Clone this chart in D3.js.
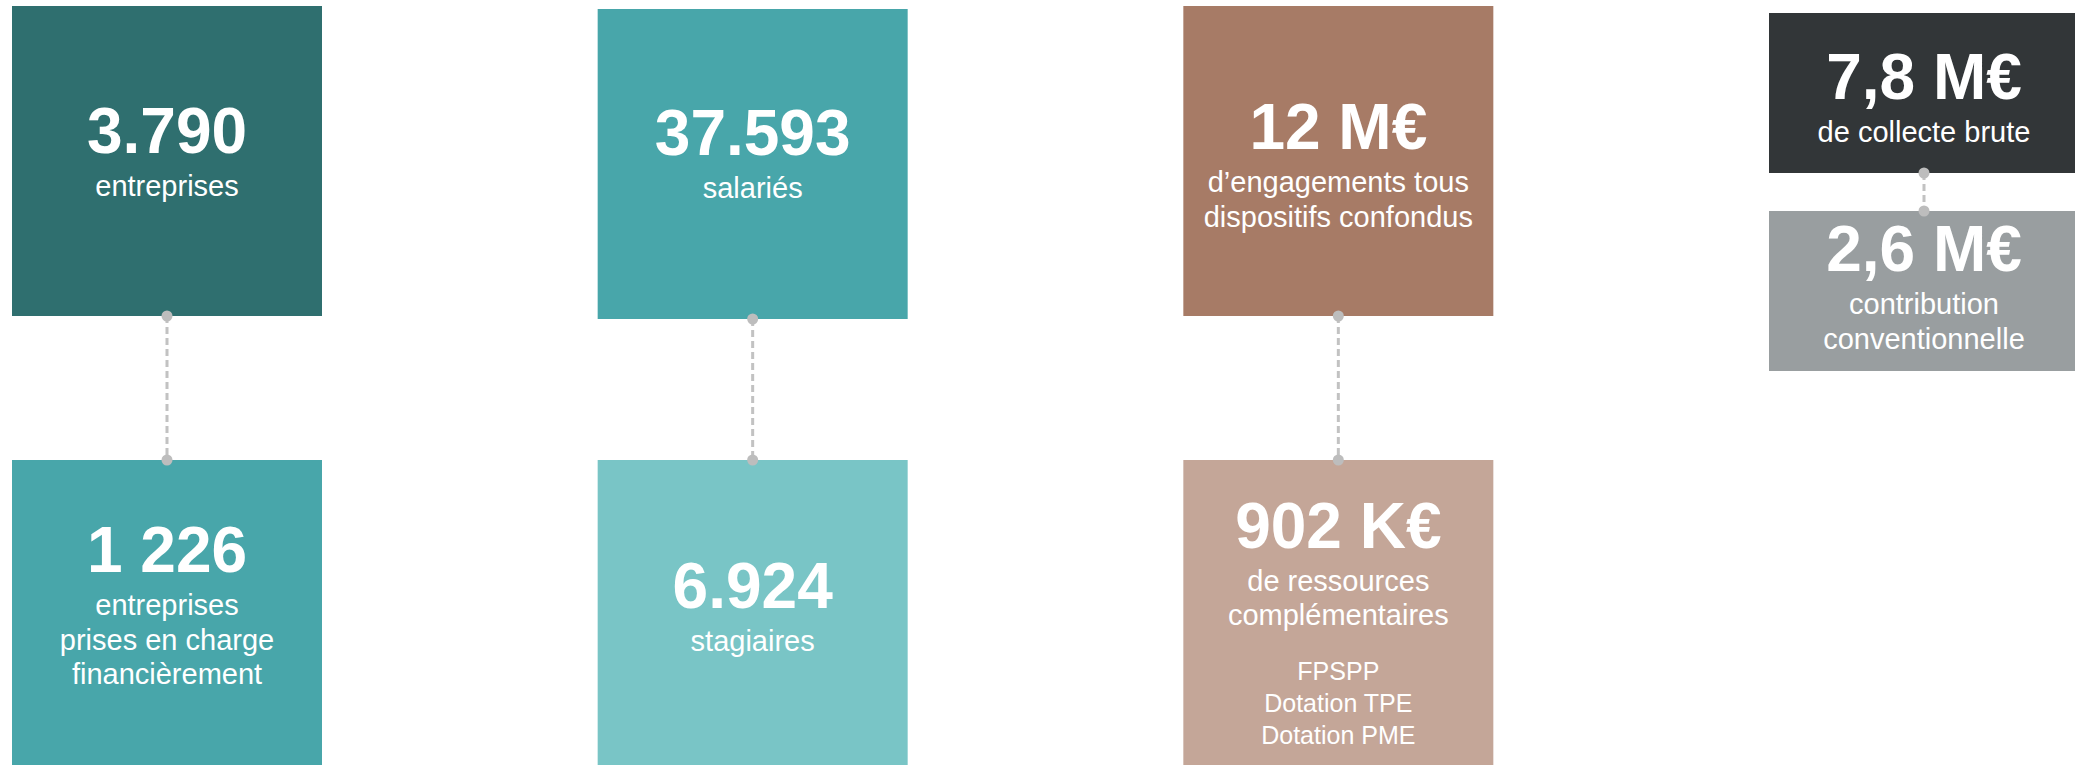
<!DOCTYPE html>
<html>
<head>
<meta charset="utf-8">
<script src="https://cdn.jsdelivr.net/npm/d3@7"></script>
<style>
  html, body { margin: 0; padding: 0; background: #fff; overflow: hidden; }
  svg { display: block; font-family: "Liberation Sans", Arial, sans-serif; }
  .num { font-weight: bold; font-size: 64px; fill: #fff; text-anchor: middle; }
  .sub { font-size: 29px; fill: #fff; text-anchor: middle; }
  .note { font-size: 25px; fill: #fff; text-anchor: middle; }
  .link { stroke: #c2c2c2; stroke-width: 3; stroke-dasharray: 7,4; }
  .dot { fill: #bdbdbd; }
</style>
</head>
<body>
<svg></svg>
<script>
// data
var columns = ["entreprises", "salaries", "engagements", "collecte"];

var headValues = ["3.790", "37.593", "12 M€", "7,8 M€"];
var headLabels = [
  ["entreprises"],
  ["salariés"],
  ["d’engagements tous", "dispositifs confondus"],
  ["de collecte brute"]
];

var tailValues = ["1 226", "6.924", "902 K€", "2,6 M€"];
var tailLabels = [
  ["entreprises", "prises en charge", "financièrement"],
  ["stagiaires"],
  ["de ressources", "complémentaires"],
  ["contribution", "conventionnelle"]
];
var tailNotes = [[], [], ["FPSPP", "Dotation TPE", "Dotation PME"], []];

var headColors = ["#2f6f6f", "#48a6aa", "#a77b66", "#323638"];
var tailColors = ["#48a6aa", "#79c5c6", "#c4a698", "#999ea0"];

// layout
var width = 2075, height = 765;
var boxW = 310;
var lineH = 34.5, numGap = 43, noteGap = 55, noteH = 32, capH = 46;

var svg = d3.select("svg").attr("width", width).attr("height", height);

var x = d3.scalePoint().domain(columns).range([12, 1769]);

// vertical slots: the first three columns use tall tiles, the last one short tiles
function slot(i, row) {
  if (i < 3) return row == 0 ? { top: i == 1 ? 9 : 6, h: i == 1 ? 310 : 310 } : { top: 460, h: 310 };
  return row == 0 ? { top: 13, h: 160 } : { top: 211, h: 160 };
}
var shift = [[-10, -10], [-11, -9], [4, 8], [4, -4]];

var tiles = [];
columns.forEach(function(c, i) {
  tiles.push({ col: c, i: i, row: 0, value: headValues[i], labels: headLabels[i], notes: [], color: headColors[i] });
  tiles.push({ col: c, i: i, row: 1, value: tailValues[i], labels: tailLabels[i], notes: tailNotes[i], color: tailColors[i] });
});

// connectors
var links = svg.append("g").attr("class", "links")
  .selectAll("g")
  .data(columns)
  .enter()
  .append("g");

links.append("line")
  .attr("class", "link")
  .attr("x1", function(c) { return x(c) + boxW / 2; })
  .attr("x2", function(c) { return x(c) + boxW / 2; })
  .attr("y1", function(c, i) { var s = slot(i, 0); return s.top + s.h; })
  .attr("y2", function(c, i) { return slot(i, 1).top; });

var g = svg.append("g").attr("class", "tiles")
  .selectAll("g")
  .data(tiles)
  .enter()
  .append("g")
  .attr("transform", function(d) { return "translate(" + x(d.col) + "," + slot(d.i, d.row).top + ")"; });

g.append("rect")
  .attr("width", boxW)
  .attr("height", function(d) { return slot(d.i, d.row).h; })
  .attr("fill", function(d) { return d.color; });

g.each(function(d) {
  var s = slot(d.i, d.row);
  var blockH = capH + numGap + (d.labels.length - 1) * lineH;
  if (d.notes.length) blockH += noteGap + (d.notes.length - 1) * noteH;
  var base = s.h / 2 - blockH / 2 + capH + shift[d.i][d.row];
  var el = d3.select(this);
  var cx = boxW / 2;

  el.append("text").attr("class", "num").attr("x", cx).attr("y", base).text(d.value);

  var y = base + numGap;
  d.labels.forEach(function(l, k) {
    el.append("text").attr("class", "sub").attr("x", cx).attr("y", y + k * lineH).text(l);
  });
  y += (d.labels.length - 1) * lineH + noteGap;
  d.notes.forEach(function(n, k) {
    el.append("text").attr("class", "note").attr("x", cx).attr("y", y + k * noteH).text(n);
  });
});

// dots on the tile edges
var dots = [];
columns.forEach(function(c, i) {
  var a = slot(i, 0), b = slot(i, 1);
  dots.push({ x: x(c) + boxW / 2, y: a.top + a.h });
  dots.push({ x: x(c) + boxW / 2, y: b.top });
});

svg.append("g").attr("class", "dots")
  .selectAll("circle")
  .data(dots)
  .enter()
  .append("circle")
  .attr("class", "dot")
  .attr("cx", function(d) { return d.x; })
  .attr("cy", function(d) { return d.y; })
  .attr("r", 5.5);
</script>
</body>
</html>
